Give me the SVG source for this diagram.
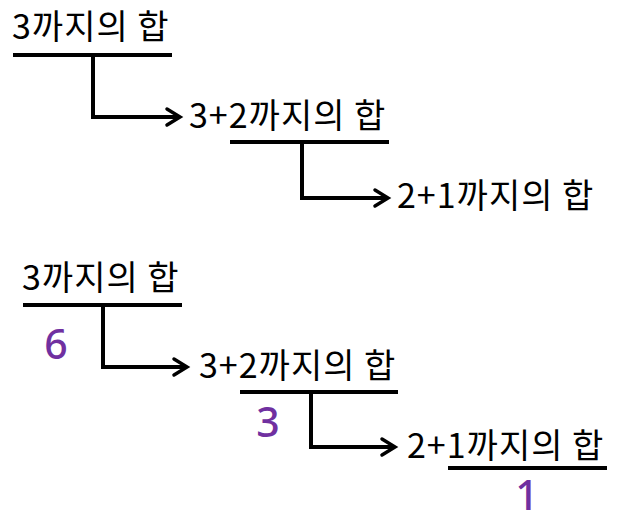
<svg xmlns="http://www.w3.org/2000/svg" width="617" height="529" viewBox="0 0 617 529">
<defs>
<style>
.t{font-family:"Noto Sans CJK KR","Noto Sans",sans-serif;font-size:34px;letter-spacing:1px;fill:#000}
.v{font-family:"Noto Sans","Noto Sans CJK KR",sans-serif;font-size:41px;font-weight:500;fill:#7030A0;text-anchor:middle}
.u{stroke:#000;stroke-width:4;fill:none}
.c{stroke:#000;stroke-width:4;fill:none}
.h{stroke:#000;stroke-width:3.5;fill:none;stroke-linecap:round;stroke-linejoin:miter}
</style>
</defs>
<rect width="617" height="529" fill="#fff"/>
<g id="top-3">
<text class="t" x="12" y="39">3까지의 합</text>
<line class="u" x1="13" y1="55" x2="172" y2="55"/>
</g>
<g id="top-32">
<text class="t" x="189" y="128">3+2까지의 합</text>
<line class="u" x1="230" y1="142" x2="389" y2="142"/>
</g>
<g id="top-21">
<text class="t" x="397" y="208">2+1까지의 합</text>
</g>
<g id="bot-3">
<text class="t" x="22" y="290">3까지의 합</text>
<line class="u" x1="23" y1="305" x2="182" y2="305"/>
<text class="v" x="56" y="359">6</text>
</g>
<g id="bot-32">
<text class="t" x="199" y="378">3+2까지의 합</text>
<line class="u" x1="240" y1="392" x2="398" y2="392"/>
<text class="v" x="268" y="437">3</text>
</g>
<g id="bot-21">
<text class="t" x="407" y="458">2+1까지의 합</text>
<line class="u" x1="448" y1="468" x2="607" y2="468"/>
<text class="v" x="527" y="510">1</text>
</g>
<g id="connectors">
<path class="c" d="M93,55 V117 H179"/>
<path class="h" d="M167,109 L180,117 L167,125"/>
<path class="c" d="M302,142 V198 H387"/>
<path class="h" d="M375,190 L388,198 L375,206"/>
<path class="c" d="M103,305 V367 H186"/>
<path class="h" d="M174,359 L187,367 L174,375"/>
<path class="c" d="M311,392 V447 H394"/>
<path class="h" d="M382,439 L395,447 L382,455"/>
</g>
</svg>
